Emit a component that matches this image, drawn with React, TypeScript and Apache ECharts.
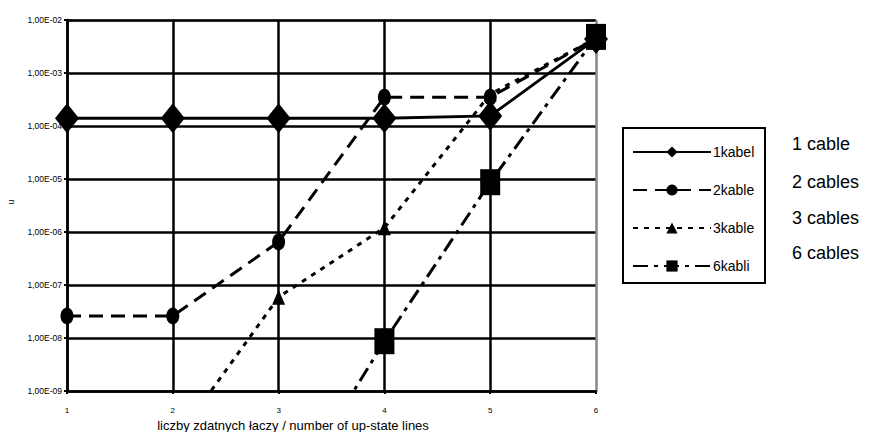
import React, { useEffect, useRef } from "react";
import * as echarts from "echarts";

const xValues = [1, 2, 3, 4, 5, 6];
const seriesNames = ["1kabel", "2kable", "3kable", "6kabli"];
const kabel1 = [1.4e-4, 1.4e-4, 1.4e-4, 1.4e-4, 1.55e-4, 4.4e-3];
const kable2 = [2.6e-8, 2.6e-8, 6.5e-7, 3.5e-4, 3.5e-4, 4.5e-3];
const kable3 = [null, 1e-10, 5.9e-8, 1.2e-6, 4e-4, 4.5e-3];
const kabli6 = [null, null, 5e-12, 8.7e-9, 8.7e-6, 4.8e-3];
const englishLabels = ["1 cable", "2 cables", "3 cables", "6 cables"];
const xAxisTitle = "liczby zdatnych łaczy / number of up-state lines";
const yAxisTitle = "u";

const pairs = (ys: (number | null)[]) => xValues.map((x, i) => [x, ys[i]]);

const fmtY = (v: number) => {
  const e = Math.round(Math.log10(v));
  const s = String(Math.abs(e)).padStart(2, "0");
  return `1,00E${e < 0 ? "-" : "+"}${s}`;
};

export default function App() {
  const ref = useRef<HTMLDivElement>(null);
  useEffect(() => {
    if (!ref.current) return;
    const chart = echarts.init(ref.current, undefined, { renderer: "svg" });
    const narrow = '"Liberation Sans Narrow", "Arial Narrow", "Liberation Sans", Arial, sans-serif';
    const base = {
      type: "line",
      clip: true,
      showAllSymbol: true,
      connectNulls: false,
      itemStyle: { color: "#000" },
    };
    const option: any = {
      animation: false,
      backgroundColor: "#fff",
      grid: { left: 67, right: 275, top: 20, bottom: 41, containLabel: false },
      xAxis: {
        type: "value",
        min: 1,
        max: 6,
        interval: 1,
        axisLine: { show: true, lineStyle: { color: "#000", width: 2.5 } },
        axisTick: { show: true, inside: false, length: 3, lineStyle: { color: "#000", width: 2 } },
        axisLabel: { color: "#000", fontSize: 8, fontFamily: narrow, margin: 15 },
        splitLine: {
          show: true,
          lineStyle: { color: ["#000", "#000", "#000", "#000", "#000", "#888"], width: 2.5 },
        },
      },
      yAxis: {
        type: "log",
        logBase: 10,
        min: 1e-9,
        max: 1e-2,
        splitNumber: 7,
        axisLine: { show: true, lineStyle: { color: "#000", width: 2.5 } },
        axisTick: { show: true, inside: false, length: 3, lineStyle: { color: "#000", width: 2 } },
        axisLabel: { color: "#000", fontSize: 8.5, fontFamily: narrow, margin: 5, formatter: fmtY },
        splitLine: {
          show: true,
          lineStyle: {
            color: ["#000", "#000", "#000", "#000", "#000", "#000", "#000", "#888"],
            width: 2.5,
          },
        },
        minorTick: { show: false },
      },
      legend: {
        orient: "vertical",
        left: 632,
        top: 145,
        itemWidth: 78,
        itemHeight: 14,
        itemGap: 24,
        padding: 0,
        data: seriesNames,
        textStyle: { color: "#000", fontSize: 14, fontFamily: narrow, padding: [0, 0, 0, -3] },
      },
      series: [
        {
          ...base,
          name: seriesNames[0],
          data: pairs(kabel1),
          symbol: "diamond",
          symbolSize: [24, 30],
          lineStyle: { color: "#000", width: 2.8, type: "solid" },
        },
        {
          ...base,
          name: seriesNames[1],
          data: pairs(kable2),
          symbol: "circle",
          symbolSize: [13, 17],
          lineStyle: { color: "#000", width: 3, type: [14, 8] },
        },
        {
          ...base,
          name: seriesNames[2],
          data: pairs(kable3),
          symbol: "triangle",
          symbolSize: [13, 15],
          lineStyle: { color: "#000", width: 3, type: [5, 6] },
        },
        {
          ...base,
          name: seriesNames[3],
          data: pairs(kabli6),
          symbol: "rect",
          symbolSize: [20, 26],
          lineStyle: { color: "#000", width: 3, type: [15, 6, 4, 6] },
        },
      ],
      graphic: [
        {
          type: "rect",
          shape: { x: 623, y: 128, width: 142, height: 155 },
          style: { fill: "none", stroke: "#000", lineWidth: 2 },
          silent: true,
        },
        ...englishLabels.map((t, i) => ({
          type: "text",
          x: 792,
          y: [144, 182, 218, 253][i],
          style: {
            text: t,
            fill: "#000",
            fontSize: 18,
            fontFamily: '"Liberation Sans", Arial, sans-serif',
            textVerticalAlign: "middle",
            textAlign: "left",
          },
          silent: true,
        })),
        {
          type: "text",
          x: 293,
          y: 425,
          style: {
            text: xAxisTitle,
            fill: "#000",
            fontSize: 13,
            fontFamily: '"Liberation Sans", Arial, sans-serif',
            textAlign: "center",
            textVerticalAlign: "middle",
          },
          silent: true,
        },
        {
          type: "text",
          x: 11,
          y: 202,
          rotation: Math.PI / 2,
          style: {
            text: yAxisTitle,
            fill: "#000",
            fontSize: 9,
            fontFamily: '"Liberation Sans", Arial, sans-serif',
            textAlign: "center",
            textVerticalAlign: "middle",
          },
          silent: true,
        },
      ],
    };
    chart.setOption(option);
    return () => chart.dispose();
  }, []);
  return (
    <div
      ref={ref}
      style={{ position: "fixed", left: 0, top: 0, width: 871, height: 432, background: "#fff" }}
    />
  );
}
